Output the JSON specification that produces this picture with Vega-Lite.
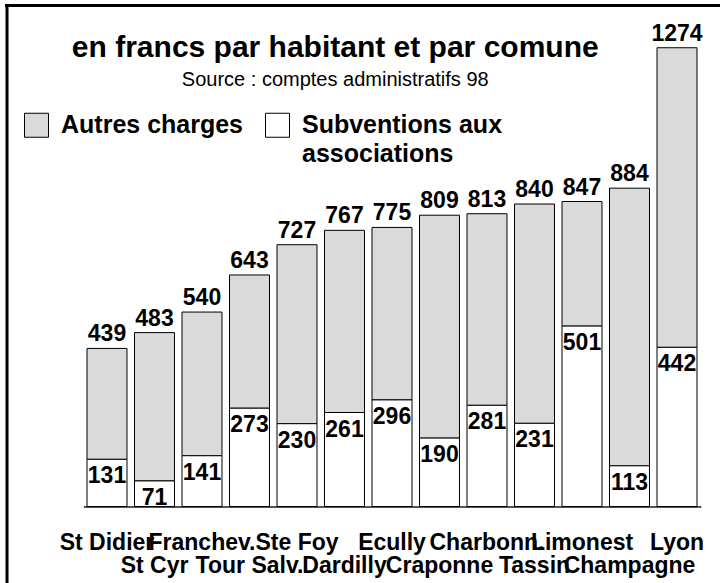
{
  "$schema": "https://vega.github.io/schema/vega-lite/v6.json",
  "width": 713.5,
  "height": 577.5,
  "autosize": {"type": "none"},
  "padding": {"left": 6.5, "top": 5.5, "right": 0, "bottom": 0},
  "background": "white",
  "config": {"font": "Liberation Sans", "view": {"stroke": null}},
  "title": {
    "text": "en francs par habitant et par comune",
    "subtitle": "Source : comptes administratifs 98",
    "anchor": "middle",
    "font": "Liberation Sans",
    "fontSize": 30,
    "fontWeight": "bold",
    "color": "black",
    "subtitleFont": "Liberation Sans",
    "subtitleFontSize": 20,
    "subtitleColor": "black",
    "subtitlePadding": 7,
    "offset": -87,
    "dx": -28
  },
  "datasets": {
    "charges": [
      {"commune": "St Didier", "serie": "Autres charges", "valeur": 308},
      {"commune": "St Didier", "serie": "Subventions aux associations", "valeur": 131},
      {"commune": "St Cyr", "serie": "Autres charges", "valeur": 412},
      {"commune": "St Cyr", "serie": "Subventions aux associations", "valeur": 71},
      {"commune": "Franchev.", "serie": "Autres charges", "valeur": 399},
      {"commune": "Franchev.", "serie": "Subventions aux associations", "valeur": 141},
      {"commune": "Tour Salv.", "serie": "Autres charges", "valeur": 370},
      {"commune": "Tour Salv.", "serie": "Subventions aux associations", "valeur": 273},
      {"commune": "Ste Foy", "serie": "Autres charges", "valeur": 497},
      {"commune": "Ste Foy", "serie": "Subventions aux associations", "valeur": 230},
      {"commune": "Dardilly", "serie": "Autres charges", "valeur": 506},
      {"commune": "Dardilly", "serie": "Subventions aux associations", "valeur": 261},
      {"commune": "Ecully", "serie": "Autres charges", "valeur": 479},
      {"commune": "Ecully", "serie": "Subventions aux associations", "valeur": 296},
      {"commune": "Craponne", "serie": "Autres charges", "valeur": 619},
      {"commune": "Craponne", "serie": "Subventions aux associations", "valeur": 190},
      {"commune": "Charbonn.", "serie": "Autres charges", "valeur": 532},
      {"commune": "Charbonn.", "serie": "Subventions aux associations", "valeur": 281},
      {"commune": "Tassin", "serie": "Autres charges", "valeur": 609},
      {"commune": "Tassin", "serie": "Subventions aux associations", "valeur": 231},
      {"commune": "Limonest", "serie": "Autres charges", "valeur": 346},
      {"commune": "Limonest", "serie": "Subventions aux associations", "valeur": 501},
      {"commune": "Champagne", "serie": "Autres charges", "valeur": 771},
      {"commune": "Champagne", "serie": "Subventions aux associations", "valeur": 113},
      {"commune": "Lyon", "serie": "Autres charges", "valeur": 832},
      {"commune": "Lyon", "serie": "Subventions aux associations", "valeur": 442}
    ],
    "totaux": [
      {"commune": "St Didier", "valeur": 439},
      {"commune": "St Cyr", "valeur": 483},
      {"commune": "Franchev.", "valeur": 540},
      {"commune": "Tour Salv.", "valeur": 643},
      {"commune": "Ste Foy", "valeur": 727},
      {"commune": "Dardilly", "valeur": 767},
      {"commune": "Ecully", "valeur": 775},
      {"commune": "Craponne", "valeur": 809},
      {"commune": "Charbonn.", "valeur": 813},
      {"commune": "Tassin", "valeur": 840},
      {"commune": "Limonest", "valeur": 847},
      {"commune": "Champagne", "valeur": 884},
      {"commune": "Lyon", "valeur": 1274}
    ]
  },
  "layer": [
    {
      "encoding": {
        "x": {
          "field": "commune",
          "type": "nominal",
          "sort": ["St Didier", "St Cyr", "Franchev.", "Tour Salv.", "Ste Foy", "Dardilly", "Ecully", "Craponne", "Charbonn.", "Tassin", "Limonest", "Champagne", "Lyon"],
          "scale": {"range": [76.75, 694.25], "paddingInner": 0.158, "paddingOuter": 0.079},
          "axis": {
            "orient": "bottom",
            "offset": -76.5,
            "title": null,
            "ticks": false,
            "domainColor": "#555555",
            "domainWidth": 2,
            "labelFont": "Liberation Sans",
            "labelFontSize": 23,
            "labelFontWeight": "bold",
            "labelColor": "black",
            "labelAngle": 0,
            "labelBaseline": "top",
            "labelPadding": 25,
            "labelLineHeight": 23,
            "labelOverlap": false,
            "labelLimit": 0,
            "labelExpr": "indexof(['St Cyr','Tour Salv.','Dardilly','Craponne','Tassin','Champagne'], datum.value) >= 0 ? ['', datum.value] : datum.value"
          }
        },
        "y": {
          "field": "valeur",
          "type": "quantitative",
          "scale": {"domain": [-212.4, 1391.3], "nice": false, "zero": false},
          "axis": {
            "title": null,
            "labels": false,
            "ticks": false,
            "grid": false,
            "domain": true,
            "domainColor": "black",
            "domainWidth": 3,
            "domainCap": "square"
          }
        }
      },
      "layer": [
        {
          "data": {"name": "charges"},
          "mark": {"type": "bar", "stroke": "black", "strokeWidth": 1},
          "encoding": {
            "fill": {
              "field": "serie",
              "type": "nominal",
              "scale": {"domain": ["Autres charges", "Subventions aux associations"], "range": ["#dadada", "#ffffff"]},
              "legend": {
                "orient": "none",
                "legendX": 17.5,
                "legendY": 107,
                "direction": "horizontal",
                "title": null,
                "padding": 0,
                "symbolType": "square",
                "symbolSize": 576,
                "symbolStrokeColor": "black",
                "symbolStrokeWidth": 1,
                "labelFont": "Liberation Sans",
                "labelFontSize": 25,
                "labelFontWeight": "bold",
                "labelColor": "black",
                "labelOffset": 12,
                "labelLimit": 0,
                "columnPadding": 19,
                "labelExpr": "datum.label == 'Subventions aux associations' ? ['Subventions aux', 'associations'] : [datum.label, '']",
                "encode": {"labels": {"update": {"lineHeight": {"value": 29}}}}
              }
            },
            "order": {"field": "serie", "sort": "descending"}
          }
        },
        {
          "data": {"name": "charges"},
          "transform": [{"filter": "datum.serie == 'Subventions aux associations'"}],
          "mark": {"type": "text", "font": "Liberation Sans", "fontSize": 23, "fontWeight": "bold", "color": "black", "baseline": "alphabetic", "dy": 24},
          "encoding": {"text": {"field": "valeur", "type": "quantitative"}}
        },
        {
          "data": {"name": "totaux"},
          "mark": {"type": "text", "font": "Liberation Sans", "fontSize": 23, "fontWeight": "bold", "color": "black", "baseline": "alphabetic", "dy": -7},
          "encoding": {"text": {"field": "valeur", "type": "quantitative"}}
        }
      ]
    },
    {
      "data": {"values": [{"cadre": "haut"}]},
      "mark": {"type": "rule", "color": "black", "strokeWidth": 3, "strokeCap": "square"},
      "encoding": {"y": {"datum": 1391.3}}
    }
  ]
}
